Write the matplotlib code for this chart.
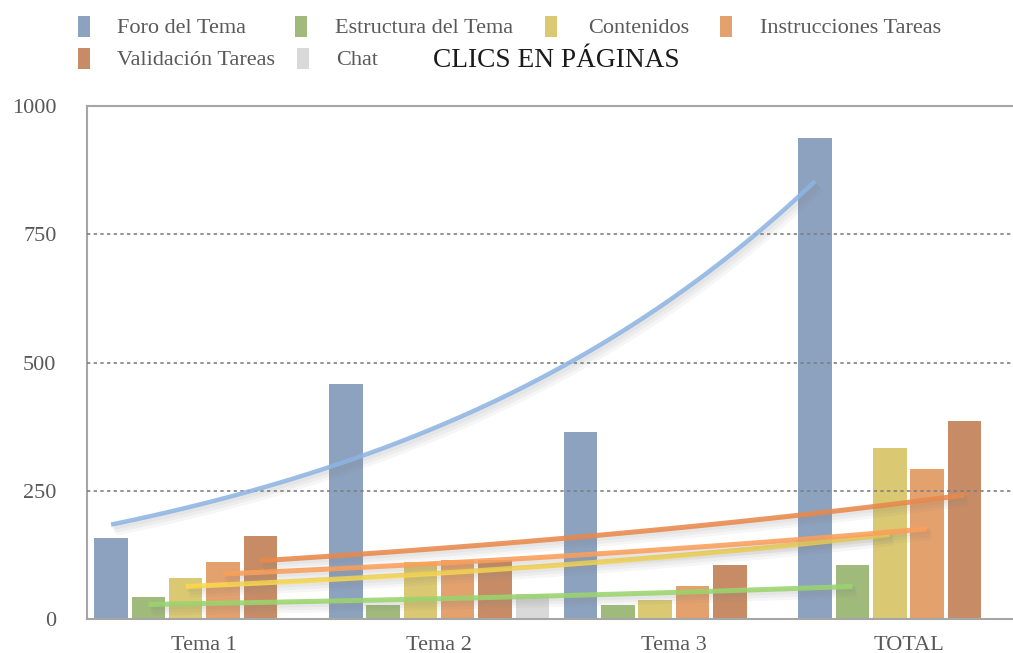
import numpy as np
import matplotlib
matplotlib.use("Agg")
import matplotlib.pyplot as plt
import matplotlib.patheffects as pe
from matplotlib.patches import Rectangle

# datos
categorias = ["Tema 1", "Tema 2", "Tema 3", "TOTAL"]
series = ["Foro del Tema", "Estructura del Tema", "Contenidos",
          "Instrucciones Tareas", "Validación Tareas", "Chat"]
foro = [158, 458, 364, 938]
estructura = [43, 27, 27, 105]
contenidos = [80, 111, 37, 333]
instrucciones = [111, 115, 64, 292]
validacion = [162, 115, 105, 386]
chat = [0, 49, 0, 0]
y_ticks = [0, 250, 500, 750, 1000]

valores = [foro, estructura, contenidos, instrucciones, validacion, chat]
colores = ["#8CA2BF", "#A0BA7B", "#DAC872", "#E3A16D", "#C78C66", "#D9D9D9"]
colores_tend = ["#8EB4E3", "#9BD46E", "#FAD94E", "#FA9F5A", "#E8894C", None]

plt.rcParams["font.family"] = ["Liberation Serif", "DejaVu Serif"]
gris = "#595959"

W, H = 1013, 653
fig = plt.figure(figsize=(W / 100, H / 100), dpi=100)
ax = fig.add_axes([0.0859, 0.052, 0.9141, 0.7857])

x = np.arange(len(categorias))
paso = 0.159
ancho = 0.143
for k, (vals, col) in enumerate(zip(valores, colores)):
    ax.bar(x + (k - 2.5) * paso, vals, width=ancho, color=col, zorder=2)

# sombra difusa para las líneas de tendencia
sombra = [pe.SimpleLineShadow(offset=(o, -o - 1), shadow_color="gray", alpha=0.07,
                              linewidth=w)
          for o, w in [(1, 4), (2, 6), (3, 8)]]

# líneas de tendencia exponenciales (ajuste log-lineal)
t = np.arange(1, len(categorias) + 1)
tt = np.linspace(1, len(categorias), 80)
for k, (vals, col) in enumerate(zip(valores, colores_tend)):
    v = np.array(vals, dtype=float)
    if col is None or np.any(v <= 0):
        continue
    b, a = np.polyfit(t, np.log(v), 1)
    yy = np.exp(a + b * tt)
    xx = (tt - 1) + (k - 2.5) * paso
    ax.plot(xx, yy, color=col, lw=3.6 if k else 3.2, alpha=0.88,
            solid_capstyle="butt", zorder=4,
            path_effects=sombra + [pe.Normal()])

ax.set_ylim(0, 1000)
ax.set_xlim(-0.5, -0.5 + 926 / 234.7)
ax.set_yticks(y_ticks)
ax.set_xticks(x)
ax.set_xticklabels(categorias)
ax.tick_params(axis="y", length=0, pad=22, labelsize=16, labelcolor=gris)
ax.tick_params(axis="x", length=0, pad=12, labelsize=16, labelcolor=gris)

for yv in y_ticks[1:-1]:
    ax.axhline(yv, color="#7F7F7F", lw=1.2, ls=(0, (2, 2)), zorder=3)

for s in ["left", "bottom", "top"]:
    ax.spines[s].set_color("#A6A6A6")
    ax.spines[s].set_linewidth(1.5)
ax.spines["right"].set_visible(False)

# leyenda (posiciones en píxeles: x del cuadro, x del texto, línea base)
pos_leyenda = [(78, 117, 33), (295, 335, 33), (545, 588, 33), (720, 760, 33),
               (78, 117, 65), (297, 336, 65)]
for nombre, col, (xp, xt, yb) in zip(series, colores, pos_leyenda):
    fig.patches.append(Rectangle((xp / W, 1 - (yb + 4) / H), 12 / W, 21 / H,
                                 transform=fig.transFigure, facecolor=col,
                                 edgecolor="none"))
    fig.text(xt / W, 1 - yb / H, nombre, fontsize=16, color=gris,
             ha="left", va="baseline")

fig.text(433 / W, 1 - 67 / H, "CLICS EN PÁGINAS", fontsize=19.7, color="#1A1A1A",
         ha="left", va="baseline")

fig.savefig("out.png", dpi=100)
